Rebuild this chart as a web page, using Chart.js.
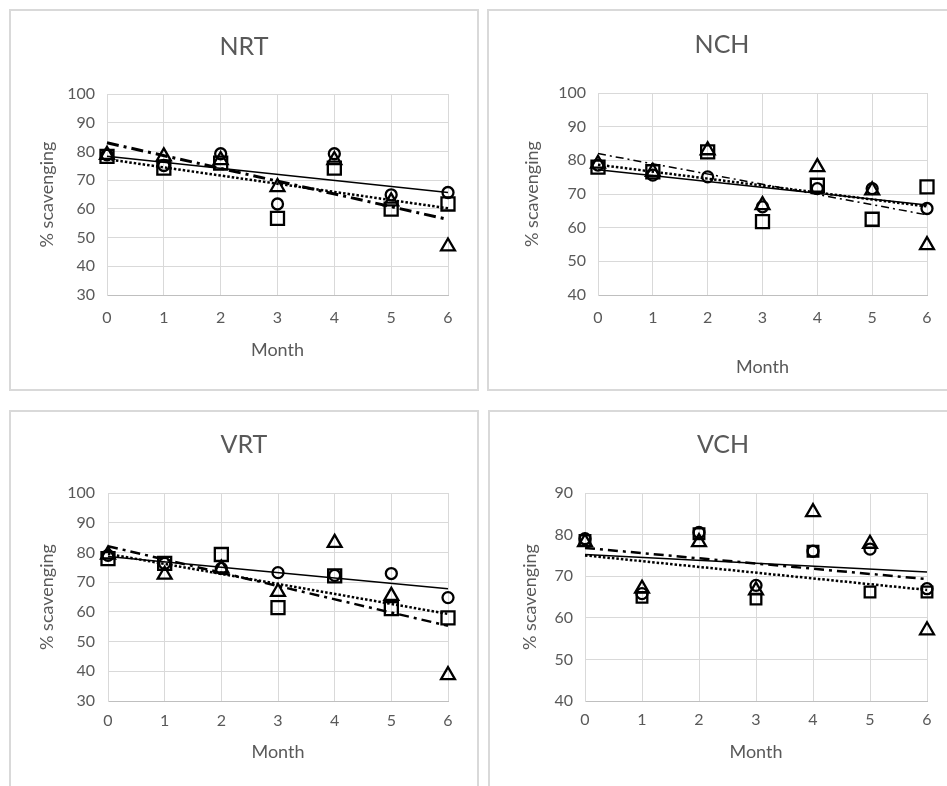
<!DOCTYPE html>
<html>
<head>
<meta charset="utf-8">
<script src="https://cdn.jsdelivr.net/npm/chart.js@4.4.1/dist/chart.umd.min.js"></script>
<style>
html,body{margin:0;padding:0;background:#fff;overflow:hidden;width:947px;height:786px;}
.panel{position:absolute;border:2px solid #d9d9d9;background:#fff;}
.panel canvas{display:block;}
</style>
</head>
<body>
<div class="panel" style="left:9px;top:9px;"><canvas id="nrt" width="466" height="378"></canvas></div>
<div class="panel" style="left:487px;top:9px;"><canvas id="nch" width="466" height="378"></canvas></div>
<div class="panel" style="left:9px;top:410px;"><canvas id="vrt" width="466" height="374"></canvas></div>
<div class="panel" style="left:488px;top:410px;"><canvas id="vch" width="466" height="374"></canvas></div>
<script>
// ==== DATA ====
const months = [0, 1, 2, 3, 4, 5, 6];
const trendMonths = [0, 6];

// NRT
const nrtCircle   = [78.8, 75.1, 79.2, 61.7, 79.2, 64.9, 65.7];
const nrtSquare   = [78.3, 74.2, 75.9, 56.7, 74.2, 59.9, 61.7];
const nrtTriangle = [78.8, 78.3, 77.0, 67.6, 77.0, 62.6, 46.9];
const nrtTrendCircle   = [78.3, 65.7];
const nrtTrendSquare   = [77.3, 60.2];
const nrtTrendTriangle = [83.0, 56.3];

// NCH
const nchCircle   = [78.6, 75.6, 75.1, 66.2, 71.6, 71.6, 65.7];
const nchSquare   = [78.0, 76.6, 82.5, 61.8, 72.6, 62.5, 72.1];
const nchTriangle = [79.0, 76.6, 83.0, 66.7, 78.0, 71.1, 54.8];
const nchTrendCircle   = [77.2, 66.7];
const nchTrendSquare   = [78.7, 66.3];
const nchTrendTriangle = [82.0, 63.8];

// VRT
const vrtCircle   = [79.0, 76.3, 74.6, 73.2, 72.3, 72.9, 64.8];
const vrtSquare   = [77.9, 76.3, 79.3, 61.4, 72.1, 61.1, 58.0];
const vrtTriangle = [79.3, 72.5, 74.6, 66.7, 83.2, 65.4, 38.7];
const vrtTrendCircle   = [78.6, 67.8];
const vrtTrendSquare   = [79.5, 59.3];
const vrtTrendTriangle = [82.1, 55.3];

// VCH
const vchCircle   = [79.0, 65.8, 80.5, 67.8, 76.0, 76.5, 67.0];
const vchSquare   = [78.6, 64.9, 80.2, 64.5, 76.0, 66.2, 66.2];
const vchTriangle = [78.2, 67.0, 78.2, 66.6, 85.4, 77.8, 57.0];
const vchTrendCircle   = [75.2, 71.0];
const vchTrendSquare   = [75.0, 66.7];
const vchTrendTriangle = [76.8, 69.3];

// ==== STYLE ====
const FONT = "Lato, 'Open Sans', sans-serif";
const TEXT = "#595959";
const TITLE_SIZE = 25, TICK_SIZE = 16, AXIS_SIZE = 18;

function pts(xs, ys){ return xs.map((x,i)=>({x, y: ys[i]})); }

function markers(ys, style, r){
  return {
    data: pts(months, ys), showLine:false, pointStyle:style,
    pointRadius:r, pointHoverRadius:r, pointBorderWidth:2.3,
    pointBorderColor:"#000", pointBackgroundColor:"rgba(0,0,0,0)", clip:false
  };
}
function trend(ys, width, dash, cap){
  return {
    data: pts(trendMonths, ys), showLine:true, pointRadius:0, pointHoverRadius:0,
    borderColor:"#000", borderWidth:width, borderDash:dash||[], borderCapStyle:cap||"butt",
    fill:false, clip:false
  };
}

// g: page coords of canvas + plot area + text anchors
function panel(id, title, g, yMin, yMax, sets){
  const cv = document.getElementById(id);
  const W = cv.width, H = cv.height, L = g.left, T = g.top;
  const titleLH = TITLE_SIZE*1.2, tickLH = TICK_SIZE*1.2, axLH = AXIS_SIZE*1.2;
  return new Chart(cv, {
    type:"scatter",
    data:{ datasets: sets },
    options:{
      responsive:false, animation:false, devicePixelRatio:1,
      layout:{ padding:0 },
      events:[],
      plugins:{
        legend:{ display:false }, tooltip:{ enabled:false },
        title:{
          display:true, text:title, color:TEXT,
          font:{ family:FONT, size:TITLE_SIZE, weight:"normal", lineHeight:1.2 },
          padding:{ top: g.titleY - T - titleLH/2, bottom: g.plotT - g.titleY - titleLH/2 }
        }
      },
      scales:{
        x:{
          type:"linear", min:0, max:6,
          afterFit: s => { s.height = T + H - g.plotB; },
          grid:{ color:"#d9d9d9", lineWidth:1, drawTicks:false },
          border:{ color:"#bfbfbf", width:1 },
          ticks:{ stepSize:1, autoSkip:false, maxRotation:0, color:TEXT,
            padding: g.xTickY - g.plotB - tickLH/2,
            font:{ family:FONT, size:TICK_SIZE, lineHeight:1.2 } },
          title:{ display:true, text:"Month", color:TEXT,
            font:{ family:FONT, size:AXIS_SIZE, lineHeight:1.2 },
            padding:{ top:0, bottom: T + H - g.xTitleY - axLH/2 } }
        },
        y:{
          type:"linear", position:"left", min:yMin, max:yMax,
          afterFit: s => { s.width = g.plotL - L; },
          grid:{ color:"#d9d9d9", lineWidth:1, drawTicks:false },
          border:{ color:"#d9d9d9", width:1 },
          ticks:{ stepSize:10, color:TEXT, padding: g.plotL - g.yTickRight,
            font:{ family:FONT, size:TICK_SIZE, lineHeight:1.2 } },
          title:{ display:true, text:"% scavenging", color:TEXT,
            font:{ family:FONT, size:AXIS_SIZE, lineHeight:1.2 },
            padding:{ top: g.yTitleX - L - axLH/2, bottom:0 } }
        },
        yR:{
          type:"linear", position:"right", min:yMin, max:yMax,
          afterFit: s => { s.width = L + W - g.plotR; },
          grid:{ display:false }, border:{ display:false }, ticks:{ display:false }
        }
      }
    }
  });
}

// ==== CHARTS ====
panel("nrt", "NRT",
  { left:11, top:11, plotL:107, plotT:94, plotR:448, plotB:295, titleY:47, xTickY:318, xTitleY:350, yTitleX:47, yTickRight:95 },
  30, 100, [
    markers(nrtCircle, "circle", 5.5),
    markers(nrtSquare, "rect", 9.2),
    markers(nrtTriangle, "triangle", 8),
    trend(nrtTrendCircle, 1.5),
    trend(nrtTrendSquare, 2.5, [2.5, 2]),
    trend(nrtTrendTriangle, 3, [12, 5, 3, 5])
  ]);

panel("nch", "NCH",
  { left:489, top:11, plotL:598, plotT:93, plotR:927, plotB:295, titleY:45, xTickY:318, xTitleY:367, yTitleX:532, yTickRight:586 },
  40, 100, [
    markers(nchCircle, "circle", 5.5),
    markers(nchSquare, "rect", 9.2),
    markers(nchTriangle, "triangle", 8),
    trend(nchTrendCircle, 1.5),
    trend(nchTrendSquare, 2.5, [2.5, 2]),
    trend(nchTrendTriangle, 1.5, [8, 4, 2, 4])
  ]);

panel("vrt", "VRT",
  { left:11, top:412, plotL:108, plotT:493, plotR:448, plotB:701, titleY:445, xTickY:721, xTitleY:752, yTitleX:47, yTickRight:95 },
  30, 100, [
    markers(vrtCircle, "circle", 5.5),
    markers(vrtSquare, "rect", 9.2),
    markers(vrtTriangle, "triangle", 8),
    trend(vrtTrendCircle, 1.5),
    trend(vrtTrendSquare, 2.5, [2.5, 2]),
    trend(vrtTrendTriangle, 2.5, [10, 5, 3, 5])
  ]);

panel("vch", "VCH",
  { left:490, top:412, plotL:585, plotT:493, plotR:927, plotB:701, titleY:445, xTickY:720, xTitleY:752, yTitleX:530, yTickRight:573 },
  40, 90, [
    markers(vchCircle, "circle", 5.5),
    markers(vchSquare, "rect", 7.5),
    markers(vchTriangle, "triangle", 8),
    trend(vchTrendCircle, 1.5),
    trend(vchTrendSquare, 2.5, [2.5, 2]),
    trend(vchTrendTriangle, 2.5, [10, 5, 3, 5])
  ]);
</script>
</body>
</html>
